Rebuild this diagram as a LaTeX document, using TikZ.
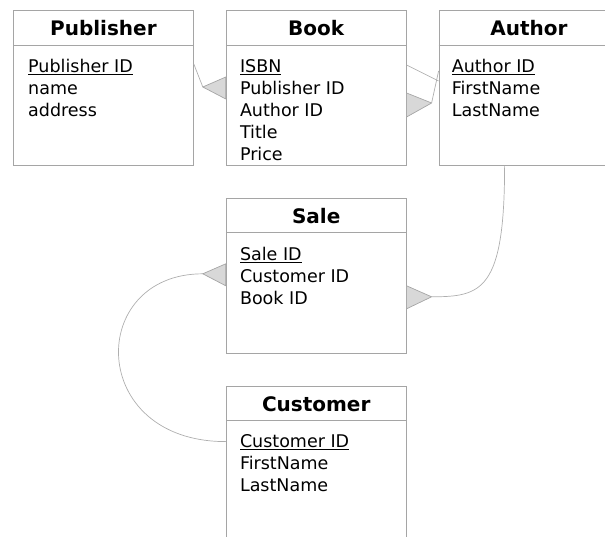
\documentclass[tikz,border=0pt]{standalone}
\usepackage{fontspec}
\setmainfont{DejaVu Sans}
\usetikzlibrary{positioning, calc}
\definecolor{boxgray}{RGB}{165,165,165}
\definecolor{linegray}{RGB}{175,175,175}
\definecolor{trifill}{RGB}{216,216,216}

\tikzset{
  tablebox/.style={draw=boxgray, line width=0.8pt, minimum width=180pt, minimum height=155pt, inner sep=0pt},
  tabletitle/.style={font=\fontsize{20}{24}\selectfont\bfseries, anchor=base, inner sep=0pt},
  attrlist/.style={font=\fontsize{17.5}{22}\selectfont, align=left, anchor=north west, inner sep=0pt},
  link/.style={draw=linegray, line width=0.7pt},
  manytip/.style={draw=boxgray, fill=trifill, line width=0.7pt, line join=round},
}

\begin{document}
\begin{tikzpicture}[x=1pt, y=-1pt]
    \useasboundingbox (0,0) rectangle (605,537);
    \clip (0,0) rectangle (605,537);

    % tables
    \node[tablebox, anchor=north west] (pub) at (13,10) {};
    \node[tablebox, right=32pt of pub] (book) {};
    \node[tablebox, right=32pt of book] (auth) {};
    \node[tablebox, below=32pt of book] (sale) {};
    \node[tablebox, below=32pt of sale] (cust) {};

    \foreach \t/\name in {pub/Publisher, book/Book, auth/Author, sale/Sale, cust/Customer} {
        \draw[boxgray, line width=0.8pt] ($(\t.north west)+(0,35)$) -- ($(\t.north east)+(0,35)$);
        \node[tabletitle] (\t-title) at ($(\t.north)+(0,26)$) {\name};
    }

    % attributes
    \node[attrlist] (pub-attr) at ($(pub.north west)+(15,49)$)
        {\underline{Publisher ID}\\ name\\ address};
    \node[attrlist] (book-attr) at ($(book.north west)+(14,49)$)
        {\underline{ISBN}\\ Publisher ID\\ Author ID\\ Title\\ Price};
    \node[attrlist] (auth-attr) at ($(auth.north west)+(13,49)$)
        {\underline{Author ID}\\ FirstName\\ LastName};
    \node[attrlist] (sale-attr) at ($(sale.north west)+(14,49)$)
        {\underline{Sale ID}\\ Customer ID\\ Book ID};
    \node[attrlist] (cust-attr) at ($(cust.north west)+(14,49)$)
        {\underline{Customer ID}\\ FirstName\\ LastName};

    % publisher -- book
    \coordinate (pb-start) at ($(pub.north east)+(0,54)$);
    \coordinate (pb-tip) at ($(book.north west)+(-23,77)$);
    \draw[link] (pb-start) -- (pb-tip);
    \draw[manytip] (pb-tip) -- ($(book.north west)+(0,67)$) -- ($(book.north west)+(0,89)$) -- cycle;

    % book -- author
    \coordinate (ba-start) at ($(book.north east)+(0,55)$);
    \coordinate (ba-end) at ($(auth.north west)+(0,71)$);
    \draw[link] (ba-start) -- (ba-end);
    \coordinate (ab-start) at ($(auth.north west)+(0,61)$);
    \coordinate (ab-tip) at ($(book.north east)+(25,93)$);
    \draw[link] (ab-start) -- (ab-tip);
    \draw[manytip] (ab-tip) -- ($(book.north east)+(0,83)$) -- ($(book.north east)+(0,107)$) -- cycle;

    % author -- sale
    \coordinate (as-start) at ($(auth.south west)+(66,0)$);
    \coordinate (as-tip) at ($(sale.north east)+(25,99)$);
    \draw[link] (as-start) .. controls ($(as-start)+(0,125)$) and ($(as-tip)+(50,0)$) .. (as-tip);
    \draw[manytip] (as-tip) -- ($(sale.north east)+(0,88)$) -- ($(sale.north east)+(0,111)$) -- cycle;

    % customer -- sale
    \coordinate (cs-tip) at ($(sale.north west)+(-23,76)$);
    \coordinate (cs-end) at ($(cust.north west)+(0,56)$);
    \draw[link] (cs-tip) .. controls ($(cs-tip)+(-116,0)$) and ($(cs-end)+(-139,0)$) .. (cs-end);
    \draw[manytip] (cs-tip) -- ($(sale.north west)+(0,66)$) -- ($(sale.north west)+(0,88)$) -- cycle;
\end{tikzpicture}
\end{document}
